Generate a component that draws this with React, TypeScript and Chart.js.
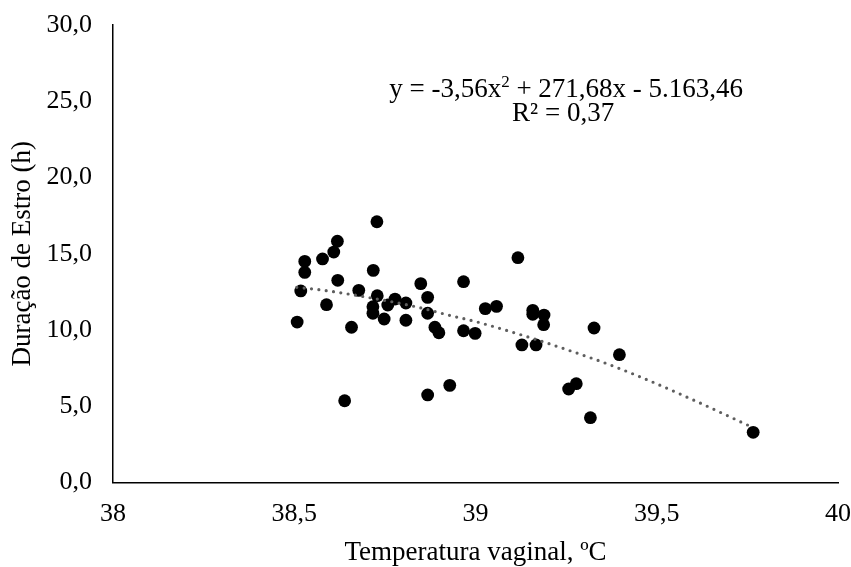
import React, { useEffect, useRef } from "react";
import { Chart, registerables } from "chart.js";

Chart.register(...registerables);

// Vaginal temperature (°C) of each observation
const TEMP = [
  38.728, 38.619, 38.609, 38.578, 38.529, 38.529, 38.718, 38.62, 38.518, 38.678,
  38.729, 38.589, 38.717, 38.717, 38.758, 38.778, 38.808, 38.748, 38.808, 38.508,
  38.658, 38.849, 38.868, 38.868, 38.888, 38.899, 38.967, 38.967, 38.999, 38.639,
  38.868, 38.929, 39.117, 39.027, 39.058, 39.158, 39.158, 39.189, 39.188, 39.128,
  39.167, 39.327, 39.397, 39.257, 39.278, 39.317, 39.766,
];
// Estrus duration (h) of each observation
const DURATION = [
  17.1, 15.82, 15.11, 14.66, 14.5, 13.78, 13.91, 13.26, 12.56, 12.6,
  12.25, 11.66, 11.53, 11.1, 11.64, 12.03, 11.77, 10.72, 10.64, 10.52,
  10.18, 13.04, 12.14, 11.1, 10.18, 9.82, 13.17, 9.95, 9.78, 5.36,
  5.74, 6.37, 14.74, 11.4, 11.55, 11.29, 11.03, 10.98, 10.35, 9.02,
  9.02, 10.13, 8.38, 6.13, 6.48, 4.25, 3.29,
];
// Polynomial trend line
const TREND_X = [38.507, 38.576, 38.708, 38.838, 38.925, 39.012, 39.329, 39.453, 39.601, 39.764];
const TREND_Y = [12.8, 12.62, 12.12, 11.51, 10.98, 10.48, 8.08, 6.94, 5.41, 3.62];

const X_MIN = 38;
const X_MAX = 40;
const X_STEP = 0.5;
const Y_MIN = 0;
const Y_MAX = 30;
const Y_STEP = 5;

const X_TITLE = "Temperatura vaginal, ºC";
const Y_TITLE = "Duração de Estro (h)";
const EQ_A = "y = -3,56x";
const EQ_SUP = "2";
const EQ_B = " + 271,68x - 5.163,46";
const EQ_R2 = "R² = 0,37";

const FONT = '"Liberation Serif", "Times New Roman", serif';

export default function App() {
  const ref = useRef<HTMLCanvasElement | null>(null);

  useEffect(() => {
    document.body.style.margin = "0";
    const canvas = ref.current;
    if (!canvas) return;

    const equationPlugin = {
      id: "equation",
      afterDraw(chart: any) {
        const ctx = chart.ctx;
        const xs = chart.scales.x;
        const ys = chart.scales.y;
        const cx = xs.getPixelForValue(39.25);
        const b1 = ys.getPixelForValue(25.3);
        const b2 = ys.getPixelForValue(23.7);
        ctx.save();
        ctx.fillStyle = "#000";
        ctx.textBaseline = "alphabetic";
        ctx.textAlign = "left";
        const main = `27px ${FONT}`;
        const sup = `17px ${FONT}`;
        ctx.font = main;
        const wa = ctx.measureText(EQ_A).width;
        const wb = ctx.measureText(EQ_B).width;
        ctx.font = sup;
        const ws = ctx.measureText(EQ_SUP).width;
        const total = wa + ws + wb;
        let x = cx - total / 2;
        ctx.font = main;
        ctx.fillText(EQ_A, x, b1);
        x += wa;
        ctx.font = sup;
        ctx.fillText(EQ_SUP, x, b1 - 10);
        x += ws;
        ctx.font = main;
        ctx.fillText(EQ_B, x, b1);
        ctx.textAlign = "center";
        ctx.fillText(EQ_R2, cx - 3, b2);
        ctx.restore();
      },
    };

    const chart = new Chart(canvas, {
      type: "scatter",
      data: {
        datasets: [
          {
            label: "Tendência",
            data: TREND_X.map((x, i) => ({ x, y: TREND_Y[i] })),
            showLine: true,
            borderColor: "#5e5e5e",
            borderWidth: 3.2,
            borderDash: [0, 7.4],
            borderCapStyle: "round",
            cubicInterpolationMode: "monotone",
            pointRadius: 0,
            pointHoverRadius: 0,
            order: 0,
          } as any,
          {
            label: "Duração de Estro",
            data: TEMP.map((x, i) => ({ x, y: DURATION[i] })),
            backgroundColor: "#000",
            borderColor: "#000",
            pointRadius: 6.4,
            pointBorderWidth: 0,
            order: 1,
          },
        ],
      },
      options: {
        responsive: false,
        animation: false,
        layout: { padding: { top: 25, right: 13, left: 0, bottom: 0 } },
        plugins: {
          legend: { display: false },
          tooltip: { enabled: false },
        },
        scales: {
          x: {
            type: "linear",
            min: X_MIN,
            max: X_MAX,
            grid: { display: false, drawTicks: false },
            border: { display: true, color: "#000", width: 1.5 },
            ticks: {
              stepSize: X_STEP,
              padding: 16,
              color: "#000",
              font: { family: FONT, size: 26 },
              callback: (v: any) => String(Number(v)).replace(".", ","),
            },
            title: {
              display: true,
              text: X_TITLE,
              color: "#000",
              font: { family: FONT, size: 27, lineHeight: 1 },
              padding: { top: 0, bottom: 1 },
            },
            afterFit: (s: any) => {
              s.height = 84.5;
              s.paddingLeft = 0;
              s.paddingRight = 0;
            },
          },
          y: {
            type: "linear",
            min: Y_MIN,
            max: Y_MAX,
            grid: { display: false, drawTicks: false },
            border: { display: true, color: "#000", width: 1.5 },
            ticks: {
              stepSize: Y_STEP,
              padding: 21,
              color: "#000",
              font: { family: FONT, size: 26 },
              callback: (v: any) => Number(v).toFixed(1).replace(".", ","),
            },
            title: {
              display: true,
              text: Y_TITLE,
              color: "#000",
              font: { family: FONT, size: 27, lineHeight: 1 },
              padding: { top: 9, bottom: 0 },
            },
            afterFit: (s: any) => {
              s.width = 113;
              s.paddingTop = 0;
              s.paddingBottom = 0;
            },
          },
        },
      },
      plugins: [equationPlugin],
    });

    return () => chart.destroy();
  }, []);

  return (
    <div style={{ width: 851, height: 567 }}>
      <canvas ref={ref} width={851} height={567} />
    </div>
  );
}
